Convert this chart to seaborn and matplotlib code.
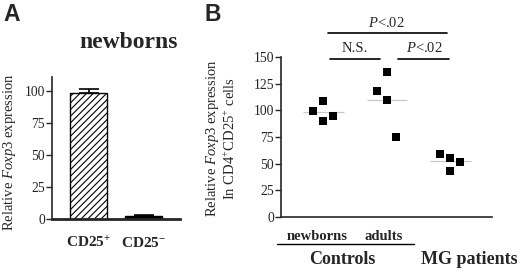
import numpy as np
import pandas as pd
import matplotlib
matplotlib.use("Agg")
import matplotlib.pyplot as plt
import seaborn as sns

# ---- data ----
a_categories = ["CD25$^{\\mathbf{+}}$", "CD25$^{\\mathbf{-}}$"]
a_values = [98.5, 2.0]
a_err = [3.5, 1.0]

b_groups = ["newborns", "adults", "MG patients"]
b_newborns = [99, 109, 90, 95]
b_adults = [118, 136, 110, 75]
b_mg = [59, 55, 43, 52]

a_yticks = [0, 25, 50, 75, 100]
b_yticks = [0, 25, 50, 75, 100, 125, 150]

sns.set_style("ticks")
plt.rcParams["font.family"] = ["Liberation Serif", "DejaVu Serif"]
plt.rcParams["mathtext.fontset"] = "custom"
plt.rcParams["mathtext.rm"] = "Liberation Serif"
plt.rcParams["mathtext.it"] = "Liberation Serif:italic"
plt.rcParams["mathtext.bf"] = "Liberation Serif:bold"
plt.rcParams["hatch.linewidth"] = 0.8

W, H = 520, 272
fig = plt.figure(figsize=(W / 100, H / 100), dpi=100)


def frac(left, top, right, bottom):
    return [left / W, 1 - bottom / H, (right - left) / W, (bottom - top) / H]


# ---------------- Panel A ----------------
axA = fig.add_axes(frac(52, 77, 180, 219))
dfA = pd.DataFrame({"cat": a_categories, "val": a_values})
sns.barplot(data=dfA, x="cat", y="val", ax=axA, errorbar=None, width=0.67,
            color="white", edgecolor="black", linewidth=1.0)
bars = axA.patches
bars[0].set_hatch("/////")
bars[0].set_facecolor("white")
bars[1].set_facecolor("black")
axA.errorbar([0, 1], a_values, yerr=[[0, 0], a_err], fmt="none",
             ecolor="black", elinewidth=1.2, capsize=7, capthick=1.2)
axA.set_xlim(-0.665, 1.66)
axA.set_ylim(0, 111)
axA.set_yticks(a_yticks)
axA.tick_params(axis="y", labelsize=9.8, length=4, width=1.0, pad=1)
axA.tick_params(axis="x", length=0, pad=12, labelsize=11)
for t in axA.get_xticklabels():
    t.set_fontweight("bold")
axA.set_xlabel("")
axA.set_ylabel("Relative $\\it{Foxp3}$ expression", fontsize=10.5, va="center")
axA.yaxis.set_label_coords(-0.33, 0.47)
sns.despine(ax=axA)
axA.spines["left"].set_linewidth(1.2)
axA.spines["bottom"].set_linewidth(2.0)
axA.set_title("newborns", fontsize=17, fontweight="bold", pad=21, x=0.6)

fig.text(3 / W, 1 - 3 / H, "A", fontsize=16.5, fontweight="bold",
         family=["Liberation Sans", "DejaVu Sans"], ha="left", va="top")
fig.text(205 / W, 1 - 3 / H, "B", fontsize=16.5, fontweight="bold",
         family=["Liberation Sans", "DejaVu Sans"], ha="left", va="top")

# ---------------- Panel B ----------------
axB = fig.add_axes(frac(281, 57, 492, 217))
groups_vals = [b_newborns, b_adults, b_mg]
offset_pattern = [-1, 0, 0, 1]
rows = []
for gi, vals in enumerate(groups_vals):
    for k, v in enumerate(vals):
        rows.append({"x": gi + 0.157 * offset_pattern[k], "y": v, "g": b_groups[gi]})
dfB = pd.DataFrame(rows)
sns.scatterplot(data=dfB, x="x", y="y", ax=axB, marker="s", s=26,
                color="black", edgecolor="black", linewidth=0, legend=False, zorder=3)
for gi, vals in enumerate(groups_vals):
    axB.hlines(np.mean(vals), gi - 0.31, gi + 0.33, color="#c8c8c8", lw=0.9, zorder=2)

axB.set_xlim(-0.66, 2.66)
axB.set_ylim(0, 150)
axB.set_yticks(b_yticks)
axB.set_xticks([])
axB.set_xlabel("")
axB.tick_params(axis="y", labelsize=9.8, length=4, width=1.0, pad=1)
axB.set_ylabel("Relative $\\it{Foxp3}$ expression\nIn CD4$^{+}$CD25$^{+}$ cells",
               fontsize=10.5, va="center", linespacing=1.1)
axB.yaxis.set_label_coords(-0.285, 0.49)
sns.despine(ax=axB)
axB.spines["left"].set_linewidth(1.2)
axB.spines["bottom"].set_linewidth(1.2)

tr = axB.get_xaxis_transform()
# significance annotations
axB.plot([0.08, 1.95], [1.15, 1.15], color="black", lw=1.2, transform=tr, clip_on=False)
axB.text(1.0, 1.17, "$\\it{P}$<.02", transform=tr, ha="center", va="bottom", fontsize=10.5)
axB.plot([0.11, 0.9], [0.99, 0.99], color="black", lw=1.2, transform=tr, clip_on=False)
axB.text(0.5, 1.01, "N.S.", transform=tr, ha="center", va="bottom", fontsize=10.5)
axB.plot([1.18, 1.98], [0.99, 0.99], color="black", lw=1.2, transform=tr, clip_on=False)
axB.text(1.6, 1.01, "$\\it{P}$<.02", transform=tr, ha="center", va="bottom", fontsize=10.5)

# group labels under axis
axB.text(-0.09, -0.12, b_groups[0], transform=tr, ha="center", va="center",
         fontsize=10.5, fontweight="bold")
axB.text(0.96, -0.12, b_groups[1], transform=tr, ha="center", va="center",
         fontsize=10.5, fontweight="bold")
axB.plot([-0.72, 1.43], [-0.168, -0.168], color="black", lw=1.0, transform=tr, clip_on=False)
axB.text(0.31, -0.265, "Controls", transform=tr, ha="center", va="center",
         fontsize=13, fontweight="bold")
axB.text(2.31, -0.265, b_groups[2], transform=tr, ha="center", va="center",
         fontsize=13, fontweight="bold")

fig.savefig("out.png", dpi=100)
